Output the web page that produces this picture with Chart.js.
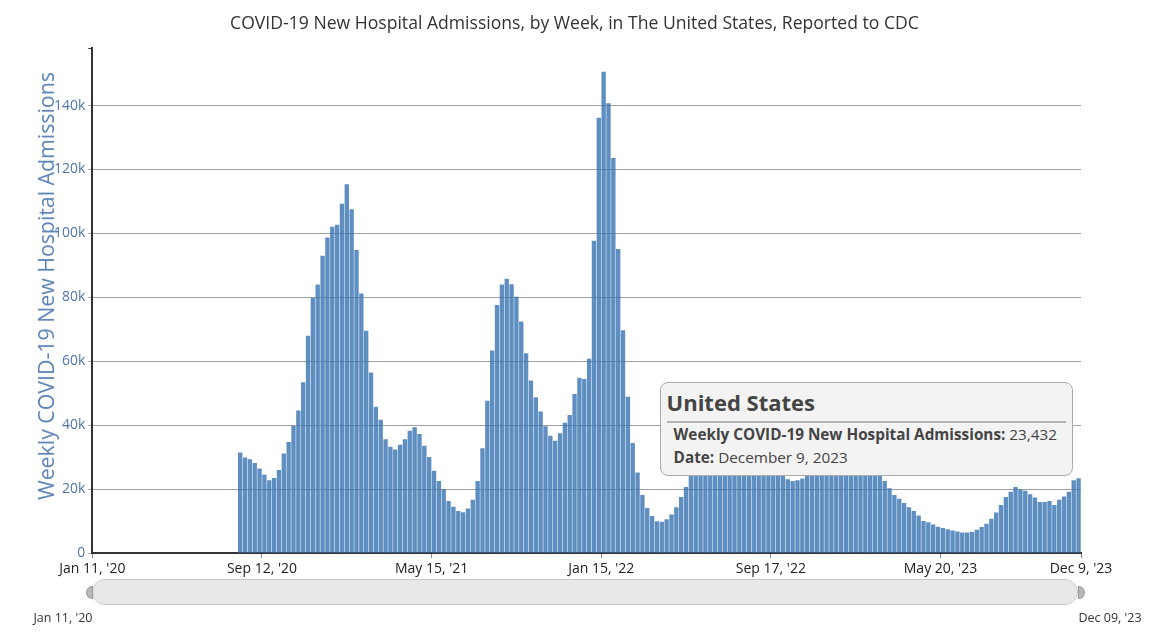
<!DOCTYPE html>
<html>
<head>
<meta charset="utf-8">
<title>COVID-19 New Hospital Admissions</title>
<script src="https://cdn.jsdelivr.net/npm/chart.js@4.4.1/dist/chart.umd.min.js"></script>
<style>
    html, body { margin: 0; padding: 0; background: #fff; }
    #wrap { position: relative; width: 1155px; height: 642px; font-family: "Open Sans", "Noto Sans", sans-serif; }
    #wrap canvas { position: absolute; left: 0; top: 0; }
    #chart-title {
        position: absolute; left: 0; top: 10px; width: 1149px; text-align: center;
        font-size: 17.6px; line-height: 24px; color: #333;
    }
    #y-title {
        position: absolute; left: 46px; top: 286px; white-space: nowrap;
        transform: translate(-50%, -50%) rotate(-90deg);
        font-size: 21.3px; line-height: 26px; color: #5a83b6;
    }
    #tip {
        position: absolute; display: none; box-sizing: border-box;
        padding: 4px 6px 6px 6px; background: #f3f3f3;
        border: 1px solid #a9a9a9; border-radius: 8px; color: #444;
        white-space: nowrap; pointer-events: none;
    }
    #tip .tt-title { font-size: 22px; font-weight: 700; line-height: 30px; padding-bottom: 4px; border-bottom: 2px solid #b5b5b5; }
    #tip .tt-line { font-size: 15.3px; line-height: 23px; padding-left: 7px; padding-right: 9px; }
    #tip .tt-line:first-of-type { margin-top: 3px; }
    #slider {
        position: absolute; left: 92px; top: 579px; width: 986px; height: 26px; box-sizing: border-box;
        background: #e8e8e8; border: 1px solid #cacaca; border-radius: 13px;
    }
    .handle {
        position: absolute; top: 586px; width: 7px; height: 13px; box-sizing: border-box;
        background: #b8b8b8; border: 1px solid #999;
    }
    #h-left { left: 86px; border-radius: 7px 0 0 7px; }
    #h-right { left: 1078px; border-radius: 0 7px 7px 0; }
    .slabel { position: absolute; top: 609px; font-size: 12.5px; color: #333; width: 90px; text-align: center; }
</style>
</head>
<body>
<div id="wrap">
    <canvas id="admissions_chart" width="1155" height="642"></canvas>
    <div id="chart-title">COVID-19 New Hospital Admissions, by Week, in The United States, Reported to CDC</div>
    <div id="y-title">Weekly COVID-19 New Hospital Admissions</div>
    <div id="slider"></div>
    <div class="handle" id="h-left"></div>
    <div class="handle" id="h-right"></div>
    <div class="slabel" id="s-left" style="left:18px">Jan 11, '20</div>
    <div class="slabel" id="s-right" style="left:1065px">Dec 09, '23</div>
    <div id="tip"></div>
</div>
<script>
// weeks are counted from the week ending Jan 11, 2020 (week 0)
var startDate = new Date(2020, 0, 11);
var lastWeek = 204;
var firstReportedWeek = 31;

// weekly new hospital admissions (from week 31 to week 204)
var admissions = [
    31500, 29900, 29400, 28200, 26500, 24500, 22800, 23500, 26000, 31200,
    34800, 39800, 44600, 53500, 68000, 79900, 84000, 93000, 98700, 102100,
    102700, 109300, 115400, 107600, 94800, 81200, 69600, 56500, 45800, 41700,
    35600, 33300, 32400, 33900, 35600, 38300, 39400, 37300, 33600, 30100,
    25800, 22600, 20000, 16300, 14500, 13200, 12800, 14000, 16700, 22600,
    32800, 47700, 63400, 77600, 84000, 85800, 84100, 80200, 72500, 62500,
    54000, 48800, 44300, 39700, 36700, 35200, 37500, 40800, 43200, 49800,
    54900, 54500, 60800, 97700, 136200, 150600, 140700, 123600, 95100, 69700,
    48900, 34500, 25200, 18200, 14100, 11600, 10000, 9800, 10600, 12100,
    14400, 17600, 20700, 24800, 26000, 27300, 28600, 30200, 32000, 34000,
    35600, 36400, 36600, 35800, 34600, 33200, 31400, 29800, 28300, 27000,
    25900, 25000, 24800, 23100, 22600, 22800, 23400, 24600, 26400, 30500,
    34800, 37600, 38900, 39600, 44200, 41500, 35800, 31200, 28000, 26200,
    25300, 25000, 24700, 22600, 20300, 18200, 17000, 15700, 14400, 13200,
    11800, 10100, 9700, 9000, 8300, 7900, 7500, 7100, 6800, 6500,
    6500, 6600, 7300, 8200, 9200, 10800, 12700, 15100, 17600, 19200,
    20700, 20000, 19500, 18400, 17400, 16000, 16000, 16300, 15100, 16700,
    17700, 19200, 22800, 23432
];

// x axis ticks (week index) and their labels
var tickWeeks = [0, 35, 70, 105, 140, 175, 204];
var tickLabels = ["Jan 11, '20", "Sep 12, '20", "May 15, '21", "Jan 15, '22", "Sep 17, '22", "May 20, '23", "Dec 9, '23"];

// y axis
var yTicks = [0, 20000, 40000, 60000, 80000, 100000, 120000, 140000];
var yMax = 158000;

var regionName = 'United States';
var seriesName = 'Weekly COVID-19 New Hospital Admissions';
var monthNames = ['January', 'February', 'March', 'April', 'May', 'June', 'July',
    'August', 'September', 'October', 'November', 'December'];

function weekDate(week) {
    var d = new Date(startDate.getTime());
    d.setDate(d.getDate() + week * 7);
    return d;
}

function longDate(week) {
    var d = weekDate(week);
    return monthNames[d.getMonth()] + ' ' + d.getDate() + ', ' + d.getFullYear();
}

// each bar covers the 7 days ending on its date
var barData = [];
for (var i = 0; i < admissions.length; i++) {
    barData.push({ x: firstReportedWeek + i - 0.5, y: admissions[i], week: firstReportedWeek + i });
}

var blueText = '#4f78aa';

function renderTip(context) {
    var tip = context.tooltip;
    var el = document.getElementById('tip');
    if (tip.opacity === 0 || !tip.dataPoints || !tip.dataPoints.length) {
        el.style.display = 'none';
        return;
    }
    var dp = tip.dataPoints[0];
    el.innerHTML = '<div class="tt-title">' + regionName + '</div>' +
        '<div class="tt-line"><b>' + seriesName + ':</b> ' + dp.raw.y.toLocaleString('en-US') + '</div>' +
        '<div class="tt-line"><b>Date:</b> ' + longDate(dp.raw.week) + '</div>';
    el.style.display = 'block';
    // sit up-left of the top of the hovered bar
    var bar = dp.element;
    el.style.left = (bar.x - el.offsetWidth - 6) + 'px';
    el.style.top = (bar.y - el.offsetHeight - 2) + 'px';
}

var ctx = document.getElementById('admissions_chart').getContext('2d');
var chart = new Chart(ctx, {
    type: 'bar',
    data: {
        datasets: [{
            label: seriesName,
            data: barData,
            backgroundColor: 'rgba(55,115,178,0.8)',
            borderWidth: 0,
            categoryPercentage: 1,
            barPercentage: 0.9
        }]
    },
    options: {
        responsive: false,
        animation: false,
        events: [],
        layout: { padding: { left: 51, right: 74, top: 48, bottom: 63 } },
        plugins: {
            legend: { display: false },
            title: { display: false },
            tooltip: { enabled: false, external: renderTip }
        },
        scales: {
            x: {
                type: 'linear',
                min: 0,
                max: lastWeek,
                offset: false,
                afterBuildTicks: function (scale) {
                    scale.ticks = tickWeeks.map(function (w) { return { value: w }; });
                },
                ticks: {
                    autoSkip: false,
                    maxRotation: 0,
                    padding: 2,
                    color: '#222',
                    font: { family: '"Open Sans"', size: 14 },
                    callback: function (value) {
                        var idx = tickWeeks.indexOf(value);
                        return idx >= 0 ? tickLabels[idx] : '';
                    }
                },
                grid: { offset: false, drawOnChartArea: false, drawTicks: true, tickLength: 5, color: '#888' },
                border: { color: '#333', width: 2 }
            },
            y: {
                min: 0,
                max: yMax,
                afterBuildTicks: function (scale) {
                    scale.ticks = yTicks.map(function (v) { return { value: v }; }).concat([{ value: yMax }]);
                },
                ticks: {
                    padding: 3,
                    color: blueText,
                    font: { family: '"Open Sans"', size: 14 },
                    callback: function (value) {
                        if (value === yMax) { return ''; }
                        return value === 0 ? '0' : (value / 1000) + 'k';
                    }
                },
                grid: {
                    tickLength: 4,
                    color: function (c) { return c.tick && c.tick.value === yMax ? 'rgba(0,0,0,0)' : '#a0a0a0'; },
                    tickColor: function (c) { return c.tick && c.tick.value === yMax ? '#333' : '#a0a0a0'; }
                },
                border: { color: '#333', width: 2 },
                title: { display: false }
            }
        }
    }
});

// show the tooltip for the latest week, as in the published chart
chart.tooltip.setActiveElements([{ datasetIndex: 0, index: admissions.length - 1 }], { x: 0, y: 0 });
chart.update();
</script>
</body>
</html>
